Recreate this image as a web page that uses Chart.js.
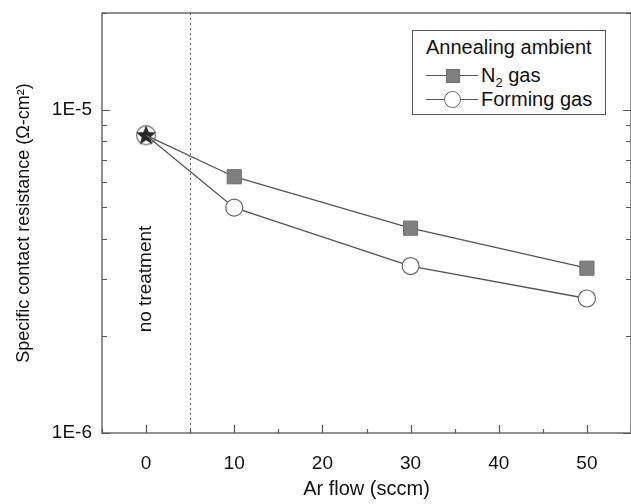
<!DOCTYPE html>
<html>
<head>
<meta charset="utf-8">
<script src="https://cdn.jsdelivr.net/npm/chart.js@4/dist/chart.umd.min.js"></script>
<style>
  html, body { margin: 0; padding: 0; background: #fff; width: 631px; height: 504px; overflow: hidden; }
  #wrap { position: relative; width: 644px; height: 504px; }
  #legenda {
    position: absolute; left: 412px; top: 30px; width: 192px; height: 83px;
    border: 1px solid #555; background: #fff;
    font-family: "Liberation Sans", Arial, sans-serif; font-size: 20px; color: #111;
  }
  #legenda .titulo { position: absolute; left: 13px; top: 5px; }
  #legenda .item { position: absolute; left: 13px; height: 22px; width: 180px; }
  #legenda .linha { position: absolute; left: 0; top: 11px; width: 52px; height: 1px; background: #555; }
  #legenda .quadrado { position: absolute; left: 20px; top: 5px; width: 12px; height: 12px; background: #808080; border: 1px solid #6f6f6f; }
  #legenda .circulo { position: absolute; left: 18px; top: 3px; width: 15px; height: 15px; border-radius: 50%; background: #fff; border: 1px solid #666; }
  #legenda .texto { position: absolute; left: 55px; top: 0; white-space: nowrap; }
  #legenda sub { font-size: 13px; vertical-align: -5px; }
</style>
</head>
<body>
<div id="wrap">
  <canvas id="graficoResistencia" width="644" height="504"></canvas>
  <div id="legenda">
    <div class="titulo">Annealing ambient</div>
    <div class="item" style="top: 33px;">
      <div class="linha"></div><div class="quadrado"></div>
      <div class="texto">N<sub>2</sub> gas</div>
    </div>
    <div class="item" style="top: 57px;">
      <div class="linha"></div><div class="circulo"></div>
      <div class="texto">Forming gas</div>
    </div>
  </div>
</div>

<script>
// dados
const fluxoAr = [0, 10, 30, 50];
const resistenciaN2 = [8.36e-6, 6.22e-6, 4.31e-6, 3.24e-6];
const resistenciaForming = [8.36e-6, 4.99e-6, 3.29e-6, 2.61e-6];
const semTratamento = [8.36e-6];
const ticksX = [0, 10, 20, 30, 40, 50];
const ticksY = [1e-6, 1e-5];

const fonte = '"Liberation Sans", Arial, sans-serif';
const corEixo = '#555';

// estrela preenchida (sem tratamento)
function criarEstrela() {
  let c = document.createElement('canvas');
  c.width = 24;
  c.height = 24;
  let ctx = c.getContext('2d');
  ctx.beginPath();
  ctx.arc(12, 12, 9.5, 0, Math.PI * 2);
  ctx.fillStyle = '#fff';
  ctx.fill();
  ctx.strokeStyle = '#777';
  ctx.lineWidth = 1.3;
  ctx.stroke();
  ctx.beginPath();
  for (let i = 0; i < 10; i++) {
    let r = i % 2 == 0 ? 10.5 : 4.6;
    let a = -Math.PI / 2 + i * Math.PI / 5;
    let px = 12 + r * Math.cos(a);
    let py = 12.5 + r * Math.sin(a);
    if (i == 0) ctx.moveTo(px, py); else ctx.lineTo(px, py);
  }
  ctx.closePath();
  ctx.fillStyle = '#262626';
  ctx.fill();
  return c;
}

// eixos com marcas para dentro, moldura e linha pontilhada
const molduraPlugin = {
  id: 'moldura',
  afterDatasetsDraw(chart) {
    let ctx = chart.ctx;
    let area = chart.chartArea;
    let x = chart.scales.x;
    let y = chart.scales.y;
    ctx.save();

    // linha pontilhada em x = 5
    let xp = Math.round(x.getPixelForValue(5)) + 0.5;
    ctx.strokeStyle = '#666';
    ctx.lineWidth = 1;
    ctx.setLineDash([2, 3]);
    ctx.beginPath();
    ctx.moveTo(xp, area.top);
    ctx.lineTo(xp, area.bottom);
    ctx.stroke();
    ctx.setLineDash([]);

    ctx.strokeStyle = corEixo;
    ctx.lineWidth = 1.3;
    ctx.strokeRect(area.left, area.top, area.right - area.left, area.bottom - area.top);

    ctx.lineWidth = 1.2;
    ctx.beginPath();
    for (let v = -5; v <= 55; v += 5) {
      let p = Math.round(x.getPixelForValue(v)) + 0.5;
      let tam = v % 10 == 0 ? 8 : 4;
      ctx.moveTo(p, area.bottom);
      ctx.lineTo(p, area.bottom - tam);
    }
    for (let dec = 1e-6; dec <= 1e-5; dec *= 10) {
      for (let m = 1; m <= 9; m++) {
        let v = m * dec;
        if (v > y.max * 1.0001) break;
        let p = Math.round(y.getPixelForValue(v)) + 0.5;
        let tam = m == 1 ? 8 : 5;
        ctx.moveTo(area.left, p);
        ctx.lineTo(area.left + tam, p);
        ctx.moveTo(area.right, p);
        ctx.lineTo(area.right - tam, p);
      }
    }
    ctx.stroke();

    // texto "no treatment"
    ctx.fillStyle = '#111';
    ctx.font = '19px ' + fonte;
    ctx.textAlign = 'center';
    ctx.textBaseline = 'middle';
    ctx.translate(x.getPixelForValue(0), y.getPixelForValue(3.0e-6));
    ctx.rotate(-Math.PI / 2);
    ctx.fillText('no treatment', 0, 0);
    ctx.restore();
  }
};

const graficoResistencia = document.getElementById('graficoResistencia');

let findGraficoResistencia = new Chart(graficoResistencia, {
  type: 'line',
  data: {
    datasets: [
      {
        label: 'N2 gas',
        data: fluxoAr.map((v, i) => ({ x: v, y: resistenciaN2[i] })),
        borderColor: '#555',
        borderWidth: 1.3,
        pointStyle: 'rect',
        pointRadius: [0, 10, 10, 10],
        pointBackgroundColor: '#808080',
        pointBorderColor: '#6f6f6f',
        pointBorderWidth: 1,
        fill: false,
      },
      {
        label: 'Forming gas',
        data: fluxoAr.map((v, i) => ({ x: v, y: resistenciaForming[i] })),
        borderColor: '#555',
        borderWidth: 1.3,
        pointStyle: 'circle',
        pointRadius: [0, 8.5, 8.5, 8.5],
        pointBackgroundColor: '#fff',
        pointBorderColor: '#666',
        pointBorderWidth: 1.2,
        fill: false,
      },
      {
        label: 'no treatment',
        data: semTratamento.map(v => ({ x: 0, y: v })),
        showLine: false,
        pointStyle: criarEstrela(),
        pointRadius: 12,
      }
    ]
  },
  options: {
    animation: false,
    responsive: false,
    // o Chart.js soma ~8px a direita e ~3px em cima, por isso os valores abaixo
    layout: { padding: { top: 5, right: 3, left: 0, bottom: 0 } },
    plugins: {
      legend: { display: false },
      tooltip: { enabled: false },
    },
    scales: {
      x: {
        type: 'linear',
        min: -5,
        max: 55,
        afterFit: function (scale) {
          scale.height = 71;
          scale.paddingLeft = 0;
          scale.paddingRight = 0;
        },
        afterBuildTicks: function (scale) { scale.ticks = ticksX.map(v => ({ value: v })); },
        grid: { display: false, drawTicks: false },
        border: { display: false },
        ticks: { color: '#111', font: { family: fonte, size: 19 }, padding: 19, maxRotation: 0 },
        title: { display: true, text: 'Ar flow (sccm)', color: '#111', font: { family: fonte, size: 20 }, padding: { top: 0, bottom: 3 } },
      },
      y: {
        type: 'logarithmic',
        min: 1e-6,
        max: 2e-5,
        afterFit: function (scale) {
          scale.width = 102;
          scale.paddingTop = 0;
          scale.paddingBottom = 0;
        },
        afterBuildTicks: function (scale) { scale.ticks = ticksY.map(v => ({ value: v })); },
        grid: { display: false, drawTicks: false },
        border: { display: false },
        ticks: {
          color: '#111',
          font: { family: fonte, size: 19 },
          padding: 10,
          callback: function (v) { return v == 1e-5 ? '1E-5' : '1E-6'; }
        },
        title: { display: true, text: 'Specific contact resistance (Ω-cm²)', color: '#111', font: { family: fonte, size: 18 }, padding: { top: 13, bottom: 0 } },
      }
    }
  },
  plugins: [molduraPlugin]
});
</script>
</body>
</html>
